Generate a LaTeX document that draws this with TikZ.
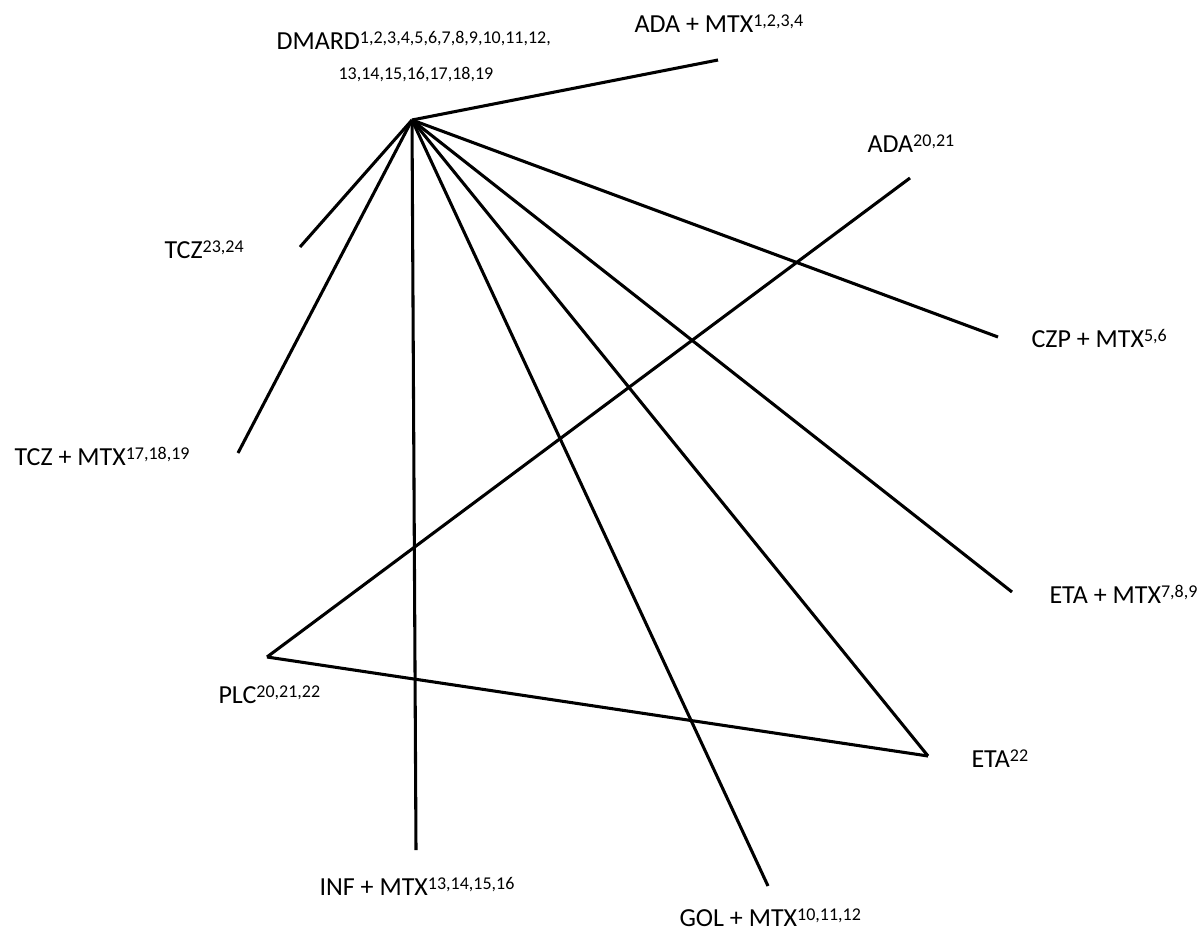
\documentclass[tikz,border=0pt]{standalone}
\usepackage{fontspec}
\setmainfont{Carlito}
\newcommand{\sups}[1]{\raisebox{4.5pt}{\fontsize{13.5}{14}\selectfont #1}}

\begin{document}
\begin{tikzpicture}[x=0.75pt,y=-0.75pt,line width=2.3pt]
    \tikzstyle{every node}=[inner sep=0pt,font=\fontsize{19.5}{22}\selectfont]
    \tikzstyle{lbl}=[anchor=base west]
    \useasboundingbox (0,0) rectangle (1202,934);

    % line ends
    \coordinate (dmard)  at (412,120);
    \coordinate (adamtx) at (718,60);
    \coordinate (ada)    at (910,178);
    \coordinate (tcz)    at (300,247);
    \coordinate (czpmtx) at (998,337);
    \coordinate (tczmtx) at (238,453);
    \coordinate (etamtx) at (1012,592);
    \coordinate (plc)    at (267,657);
    \coordinate (eta)    at (928,756);
    \coordinate (infmtx) at (416,850);
    \coordinate (golmtx) at (768,886);

    % labels
    \node[lbl] (dmardtxt)  at (275,50)  {DMARD\sups{1,2,3,4,5,6,7,8,9,10,11,12,}};
    \node[lbl] (dmardtxt2) at (337,80)  {\fontsize{13.5}{14}\selectfont 13,14,15,16,17,18,19};
    \node[lbl] (adamtxtxt) at (633,33)  {ADA + MTX\sups{1,2,3,4}};
    \node[lbl] (adatxt)    at (866,153) {ADA\sups{20,21}};
    \node[lbl] (tcztxt)    at (163,258) {TCZ\sups{23,24}};
    \node[lbl] (czpmtxtxt) at (1030,347) {CZP + MTX\sups{5,6}};
    \node[lbl] (tczmtxtxt) at (13,465)  {TCZ + MTX\sups{17,18,19}};
    \node[lbl] (etamtxtxt) at (1048,603) {ETA + MTX\sups{7,8,9}};
    \node[lbl] (plctxt)    at (217,703) {PLC\sups{20,21,22}};
    \node[lbl] (etatxt)    at (970,767) {ETA\sups{22}};
    \node[lbl] (infmtxtxt) at (318,895) {INF + MTX\sups{13,14,15,16}};
    \node[lbl] (golmtxtxt) at (678,926) {GOL + MTX\sups{10,11,12}};

    \path[draw]
    (dmard) edge (adamtx)
    (dmard) edge (tcz)
    (dmard) edge (tczmtx)
    (dmard) edge (infmtx)
    (dmard) edge (golmtx)
    (dmard) edge (eta)
    (dmard) edge (etamtx)
    (dmard) edge (czpmtx)
    (plc) edge (ada)
    (plc) edge (eta);
\end{tikzpicture}
\end{document}
